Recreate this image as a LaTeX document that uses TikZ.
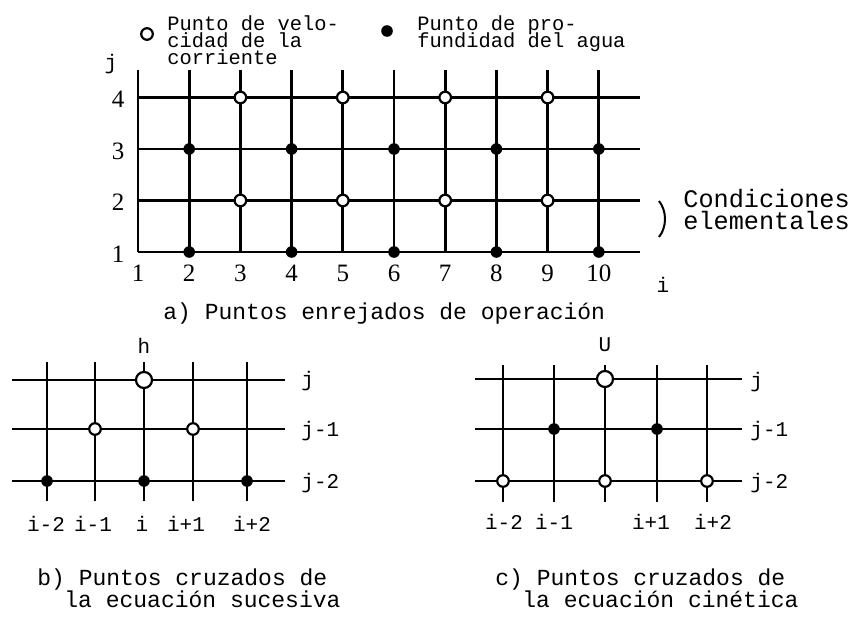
\documentclass[tikz,border=0pt]{standalone}
\usepackage{fontspec}
\setmainfont{Liberation Mono}
\newfontfamily\numfont{Liberation Serif}
\usetikzlibrary{positioning}
\tikzset{
  gridv/.style={line width=1.4pt, color=black},
  gridh/.style={line width=1.1pt, color=black},
  velpt/.style={circle, draw=black, fill=white, line width=1.1pt,
    minimum size=5.8pt, inner sep=0pt},
  bigvelpt/.style={velpt, minimum size=8pt},
  deppt/.style={circle, fill=black, minimum size=5.8pt, inner sep=0pt},
  numlbl/.style={font=\numfont\fontsize{12.5}{13}\selectfont, inner sep=0pt},
  idxlbl/.style={font=\fontsize{10.5}{11}\selectfont, inner sep=0pt},
  legtxt/.style={font=\fontsize{10.2}{11}\selectfont, inner sep=0pt, anchor=base west},
  captxt/.style={font=\fontsize{11.5}{12}\selectfont, inner sep=0pt, anchor=base west},
  condtxt/.style={font=\fontsize{12.6}{13}\selectfont, inner sep=0pt, anchor=base west}
}
\begin{document}
\begin{tikzpicture}[x=0.5pt, y=-0.5pt]
  \useasboundingbox (0,0) rectangle (855,621);
  % legend
  \node[velpt] (legvel) at (147,34) {};
  \node[legtxt] (legvelA) at (167,30) {Punto de velo-};
  \node[legtxt] (legvelB) at (167,47) {cidad de la};
  \node[legtxt] (legvelC) at (167,64) {corriente};
  \node[deppt] (legdep) at (387,31) {};
  \node[legtxt] (legdepA) at (417,30) {Punto de pro-};
  \node[legtxt] (legdepB) at (417,47) {fundidad del agua};
  % a) main lattice
  \foreach \i in {1,...,10}
    \draw[gridv] ({138+51.2*(\i-1)},252) -- ({138+51.2*(\i-1)},70);
  \foreach \j in {1,...,4}
    \draw[gridh] (138,{252-51.5*(\j-1)}) -- (640,{252-51.5*(\j-1)});
  \foreach \i in {3,5,7,9}
    \foreach \j in {2,4}
      \node[velpt] (v-\i-\j) at ({138+51.2*(\i-1)},{252-51.5*(\j-1)}) {};
  \foreach \i in {2,4,6,8,10}
    \foreach \j in {1,3}
      \node[deppt] (d-\i-\j) at ({138+51.2*(\i-1)},{252-51.5*(\j-1)}) {};
  \foreach \i in {1,...,10}
    \node[numlbl] (ilbl\i) at ({138+51.2*(\i-1)},273) {\i};
  \foreach \j in {1,...,4}
    \node[numlbl] (jlbl\j) at (118,{254-51.5*(\j-1)}) {\j};
  \node[idxlbl] (jaxis) at (111,64) {j};
  \node[idxlbl] (iaxis) at (663,285) {i};
  % boundary bracket
  \draw[line width=1pt] (659,201) .. controls (667,211) and (667,227) .. (659,237);
  \node[condtxt] (condA) at (683,207) {Condiciones};
  \node[condtxt] (condB) at (683,229) {elementales};
  \node[captxt] (capa) at (163,319) {a) Puntos enrejados de operación};
  % b) successive equation
  \foreach \x in {47,95,144,193,247}
    \draw[gridv] (\x,501) -- (\x,362);
  \foreach \y in {380,429,481}
    \draw[gridh] (12,\y) -- (285,\y);
  \node[bigvelpt] (bh) at (144,380) {};
  \node[velpt] (bv1) at (95,429) {};
  \node[velpt] (bv2) at (193,429) {};
  \node[deppt] (bd1) at (47,481) {};
  \node[deppt] (bd2) at (144,481) {};
  \node[deppt] (bd3) at (247,481) {};
  \node[idxlbl] (hlbl) at (144,346) {h};
  \node[idxlbl, anchor=west] (bj0) at (301,381) {j};
  \node[idxlbl, anchor=west] (bj1) at (301,431) {j-1};
  \node[idxlbl, anchor=west] (bj2) at (301,483) {j-2};
  \foreach \x/\t [count=\k] in {46/i-2,93/i-1,142/i,186/i+1,252/i+2}
    \node[idxlbl] (bi\k) at (\x,524) {\t};
  \node[captxt] (capbA) at (37,585) {b) Puntos cruzados de};
  \node[captxt] (capbB) at (64,607) {la ecuación sucesiva};
  % c) kinetic equation
  \foreach \x in {503,554,605,657,707}
    \draw[gridv] (\x,502) -- (\x,365);
  \foreach \y in {379,429,481}
    \draw[gridh] (475,\y) -- (742,\y);
  \node[bigvelpt] (cu) at (605,379) {};
  \node[deppt] (cd1) at (554,429) {};
  \node[deppt] (cd2) at (657,429) {};
  \node[velpt] (cv1) at (503,481) {};
  \node[velpt] (cv2) at (605,481) {};
  \node[velpt] (cv3) at (707,481) {};
  \node[idxlbl] (ulbl) at (605,345) {U};
  \node[idxlbl, anchor=west] (cj0) at (750,382) {j};
  \node[idxlbl, anchor=west] (cj1) at (750,431) {j-1};
  \node[idxlbl, anchor=west] (cj2) at (750,483) {j-2};
  \foreach \x/\t [count=\k] in {504/i-2,554/i-1,651/i+1,713/i+2}
    \node[idxlbl] (ci\k) at (\x,522) {\t};
  \node[captxt] (capcA) at (495,585) {c) Puntos cruzados de};
  \node[captxt] (capcB) at (522,607) {la ecuación cinética};
\end{tikzpicture}
\end{document}
